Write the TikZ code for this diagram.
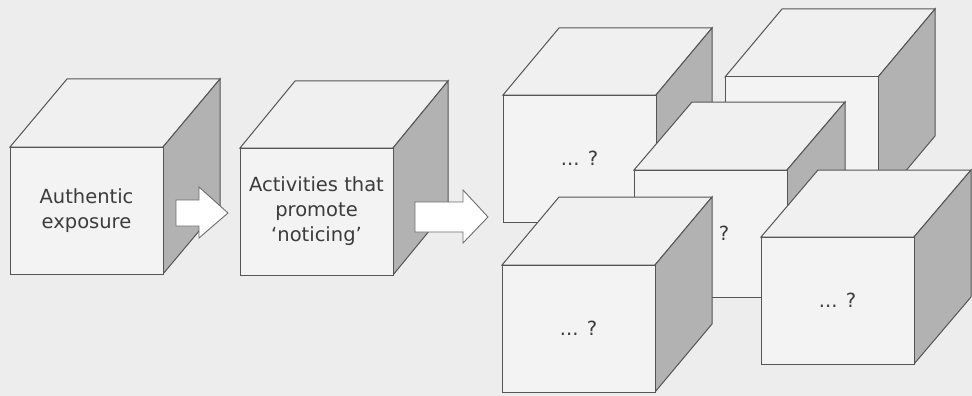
\documentclass[tikz,border=0pt]{standalone}
\usepackage{fontspec}
\newfontfamily\labfont{DejaVu Sans}
\definecolor{bgc}{HTML}{EDEDED}
\definecolor{frontc}{HTML}{F3F3F3}
\definecolor{topc}{HTML}{F0F0F0}
\definecolor{sidec}{HTML}{B2B2B2}
\definecolor{edgec}{HTML}{555555}
\definecolor{textc}{HTML}{3C3C3C}
\newcommand\mycube[6]{% name, x, y (front top-left), dx, dy, text
  \filldraw[face,fill=topc] (#2,#3) -- ++(#4,#5) -- ++(153,0) -- ++(-#4,-#5) -- cycle;
  \filldraw[face,fill=sidec] (#2+153,#3) -- ++(#4,#5) -- ++(0,127) -- ++(-#4,-#5) -- cycle;
  \filldraw[face,fill=frontc] (#2,#3) rectangle ++(153,127);
  \node[lab] (#1) at (#2+76.5,#3+63.5) {#6};
}
\begin{document}
\begin{tikzpicture}[x=1pt,y=-1pt,
  face/.style={draw=edgec,line width=1pt,line join=miter},
  blockarrow/.style={draw=edgec!85,line width=0.9pt,fill=white},
  lab/.style={align=center,text=textc,inner sep=0pt,font=\labfont\fontsize{19.5}{25}\selectfont}]
\useasboundingbox (0,0) rectangle (972,396);
\fill[bgc] (0,0) rectangle (972,396);
% first cube and arrow
\mycube{c1}{10}{147}{57}{-68}{Authentic\\exposure}
\draw[blockarrow] (176,200) -- (199,200) -- (199,187) -- (228,213) -- (199,238) -- (199,226) -- (176,226) -- cycle;
% second cube and arrow
\mycube{c2}{240}{148}{55}{-67}{Activities that\\promote\\‘noticing’}
\draw[blockarrow] (415,202) -- (463,202) -- (463,190) -- (488,217) -- (463,243) -- (463,232) -- (415,232) -- cycle;
% the group of unknown cubes
\mycube{cb}{725}{77}{57}{-68}{}
\mycube{ca}{503}{95}{56}{-67}{... ?}
\mycube{cc}{634}{170}{58}{-68}{... ?}
\mycube{cd}{502}{265}{57}{-68}{... ?}
\mycube{ce}{761}{237}{57}{-67}{... ?}
\end{tikzpicture}
\end{document}
